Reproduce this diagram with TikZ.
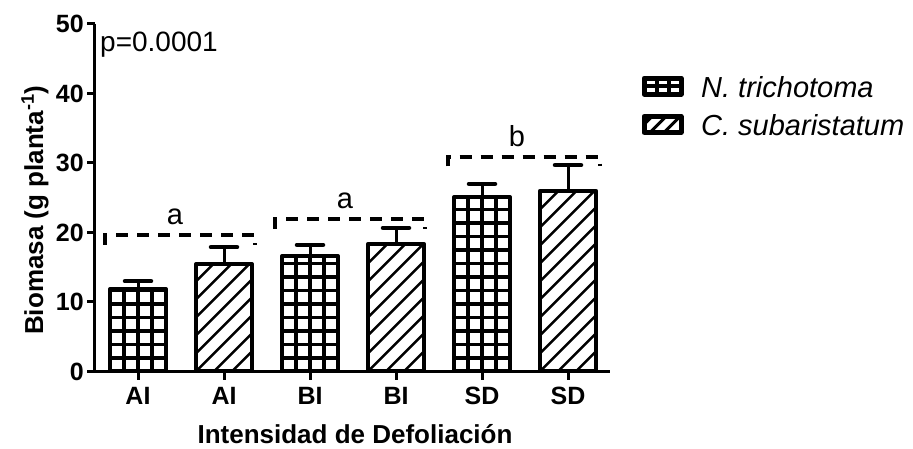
\documentclass[tikz,border=0pt]{standalone}
\usepackage{fontspec}
\setmainfont{Liberation Sans}
\usetikzlibrary{positioning}

% bar filled with a square grid: centre, value, top of error bar
\newcommand{\gridbar}[3]{%
  \begin{scope}
    \clip (#1-28,0) rectangle (#1+28,#2);
    \foreach \i in {1,2,3}
      \draw[gridline] ({#1-28+\i*14},0) -- ({#1-28+\i*14},#2);
    \foreach \j in {1,...,14}
      \draw[gridline] (#1-28,{\j*1.94}) -- (#1+28,{\j*1.94});
  \end{scope}
  \draw[barline] (#1-28,0) rectangle (#1+28,#2);
  \draw[errline] (#1,#2) -- (#1,#3);
  \draw[capline] (#1-13,#3) -- (#1+13,#3);
}
% bar filled with diagonal hatching: centre, value, top of error bar
\newcommand{\hatchbar}[3]{%
  \begin{scope}
    \clip (#1-28,0) rectangle (#1+28,#2);
    \foreach \k in {-12,...,3}
      \draw[hatchline] ({#1-28+\k*18},0) -- ++(250pt,250pt);
  \end{scope}
  \draw[barline] (#1-28,0) rectangle (#1+28,#2);
  \draw[errline] (#1,#2) -- (#1,#3);
  \draw[capline] (#1-13,#3) -- (#1+13,#3);
}

\begin{document}
\begin{tikzpicture}
[x=1pt, y=6.95pt,
% STYLES
axisline/.style={line width=3pt},
barline/.style={line width=4pt, line join=round},
gridline/.style={line width=3.5pt},
hatchline/.style={line width=2.5pt},
errline/.style={line width=3pt},
capline/.style={line width=4.5pt, line cap=round},
% legend keys
keybox/.style={line width=5pt, line join=round},
% dashed brackets over the groups
bracket/.style={line width=4pt, dash pattern=on 12pt off 9pt},
% texts
ticklabel/.style={inner sep=0pt, font=\fontsize{25}{30}\selectfont\bfseries},
title/.style={inner sep=0pt, font=\fontsize{26}{31}\selectfont\bfseries},
letter/.style={inner sep=0pt, font=\fontsize{29}{34}\selectfont},
legendtext/.style={inner sep=0pt, font=\fontsize{29}{34}\selectfont\itshape}]

\useasboundingbox (-95,-11.15) rectangle (818,53.45);

% Draw bars
\gridbar{43}{11.87}{13.0}
\hatchbar{129}{15.47}{17.9}
\gridbar{215}{16.6}{18.2}
\hatchbar{301}{18.35}{20.65}
\gridbar{387}{25.1}{27.0}
\hatchbar{473}{26.0}{29.7}

% Axes
\draw[axisline] (0,50) -- (0,0) -- (515,0);
\foreach \v in {0,10,...,50} {
  \draw[axisline] (0,\v) -- (-8,\v);
  \node[ticklabel, anchor=east] (ytick-\v) at (-11,\v) {\v};
}
\foreach \x/\lab [count=\i] in {43/AI,129/AI,215/BI,301/BI,387/SD,473/SD} {
  \draw[axisline] (\x,0) -- (\x,-1.2);
  \node[ticklabel, anchor=north] (xtick-\i) at (\x,-2.2) {\lab};
}

\node[title] (xtitle) at (260,-9.05) {Intensidad de Defoliación};
\node[title, rotate=90] (ytitle) at (-60,23.2) {Biomasa (g planta\textsuperscript{-1})};

\node[inner sep=0pt, anchor=base west, font=\fontsize{28}{33}\selectfont] (pval) at (5,46.0) {p=0.0001};

%%%%%%%%%%%%%%%

% brackets and letters
\draw[bracket] (10,18.25) -- (10,19.64) -- (160,19.64) -- (160,18.25);
\draw[bracket] (180,20.55) -- (180,21.94) -- (330,21.94) -- (330,20.55);
\draw[bracket] (353,29.5) -- (353,30.86) -- (505,30.86) -- (505,29.5);

\node[letter] (sig-a1) at (80,22.3) {a};
\node[letter] (sig-a2) at (250,24.6) {a};
\node[letter] (sig-b) at (422,33.9) {b};

%%%%%%%%%%%%%%%%

% legend
\begin{scope}
  \clip (549,39.9) rectangle (586,42.2);
  \draw[line width=4pt] (561.5,39.9) -- (561.5,42.2) (573.5,39.9) -- (573.5,42.2) (549,41.05) -- (586,41.05);
\end{scope}
\draw[keybox] (549,39.9) rectangle (586,42.2);
\node[legendtext, anchor=west] (leg-n) at (606,40.9) {N. trichotoma};

\begin{scope}
  \clip (549,34.4) rectangle (586,36.7);
  \foreach \k in {0,1,2}
    \draw[line width=3pt] ({541+\k*14},34.4) -- ++(20pt,20pt);
\end{scope}
\draw[keybox] (549,34.4) rectangle (586,36.7);
\node[legendtext, anchor=west] (leg-c) at (606,35.4) {C. subaristatum};

\end{tikzpicture}
\end{document}
